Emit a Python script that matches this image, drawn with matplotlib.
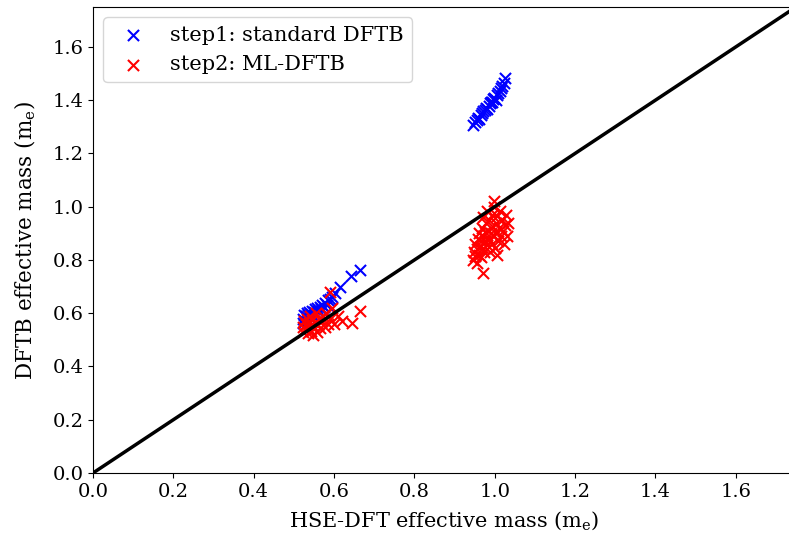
import matplotlib.pyplot as plt

plt.rcParams['font.family'] = 'DejaVu Serif'
plt.rcParams['mathtext.fontset'] = 'dejavuserif'

# step1: standard DFTB (HSE-DFT mass, DFTB mass)
blue_x = [0.945, 0.950, 0.955, 0.958, 0.962, 0.965, 0.968, 0.972, 0.975, 0.978,
          0.981, 0.985, 0.988, 0.990, 0.993, 0.996, 0.999, 1.002, 1.005, 1.008,
          1.012, 1.015, 1.018, 1.022, 1.026,
          0.522, 0.524, 0.526, 0.528, 0.530, 0.532, 0.534, 0.536, 0.538, 0.540,
          0.542, 0.545, 0.548, 0.550, 0.553, 0.556, 0.558, 0.561, 0.564, 0.567,
          0.570, 0.574, 0.578, 0.582, 0.586, 0.590, 0.596, 0.603, 0.615, 0.643,
          0.665]
blue_y = [1.305, 1.318, 1.325, 1.335, 1.330, 1.345, 1.352, 1.358, 1.365, 1.372,
          1.368, 1.380, 1.388, 1.395, 1.392, 1.405, 1.410, 1.402, 1.420, 1.428,
          1.435, 1.445, 1.452, 1.465, 1.482,
          0.565, 0.580, 0.595, 0.570, 0.588, 0.600, 0.575, 0.592, 0.605, 0.582,
          0.598, 0.610, 0.590, 0.603, 0.615, 0.598, 0.620, 0.608, 0.625, 0.615,
          0.632, 0.622, 0.640, 0.630, 0.648, 0.655, 0.662, 0.675, 0.700, 0.741,
          0.764]

# step2: ML-DFTB
red_x = [0.945, 0.948, 0.950, 0.952, 0.955, 0.957, 0.958, 0.960, 0.962, 0.963,
         0.965, 0.967, 0.968, 0.970, 0.971, 0.972, 0.974, 0.975, 0.976, 0.978,
         0.980, 0.981, 0.983, 0.985, 0.986, 0.988, 0.990, 0.992, 0.994, 0.995,
         0.997, 0.999, 1.000, 1.002, 1.004, 1.006, 1.008, 1.010, 1.012, 1.015,
         1.018, 1.020, 1.022, 1.025, 1.028, 1.030, 1.032, 0.972, 0.998, 1.005,
         0.522, 0.524, 0.526, 0.528, 0.530, 0.532, 0.534, 0.536, 0.538, 0.540,
         0.542, 0.544, 0.546, 0.548, 0.550, 0.552, 0.555, 0.558, 0.560, 0.563,
         0.566, 0.570, 0.573, 0.577, 0.580, 0.585, 0.590, 0.595, 0.600, 0.610,
         0.620, 0.645, 0.665, 0.590]
red_y = [0.800, 0.830, 0.815, 0.860, 0.790, 0.840, 0.880, 0.820, 0.900, 0.850,
         0.870, 0.810, 0.920, 0.845, 0.890, 0.960, 0.830, 0.905, 0.870, 0.940,
         0.855, 0.985, 0.910, 0.880, 0.950, 0.830, 0.900, 0.970, 0.860, 0.925,
         0.890, 1.000, 0.845, 0.940, 0.900, 0.965, 0.870, 0.920, 0.985, 0.890,
         0.950, 0.910, 0.860, 0.930, 0.970, 0.890, 0.940, 0.750, 1.020, 0.820,
         0.530, 0.550, 0.570, 0.540, 0.560, 0.580, 0.525, 0.545, 0.565, 0.590,
         0.535, 0.555, 0.575, 0.520, 0.545, 0.565, 0.600, 0.530, 0.555, 0.580,
         0.545, 0.570, 0.590, 0.550, 0.600, 0.560, 0.580, 0.620, 0.560, 0.590,
         0.570, 0.564, 0.610, 0.680]

lim = 1.75

fig = plt.figure(figsize=(7.89, 5.45), dpi=100)
ax = fig.add_axes([93 / 789, 72 / 545, 703 / 789, 466 / 545])

ax.scatter(blue_x, blue_y, marker='x', s=64, color='blue', linewidths=1.5,
           label='step1: standard DFTB')
ax.scatter(red_x, red_y, marker='x', s=64, color='red', linewidths=1.5,
           label='step2: ML-DFTB')
ax.plot([0, lim], [0, lim], color='black', linewidth=2.5)

ax.set_xlim(0, lim)
ax.set_ylim(0, lim)
ax.set_xticks([0, 0.2, 0.4, 0.6, 0.8, 1.0, 1.2, 1.4, 1.6])
ax.set_yticks([0, 0.2, 0.4, 0.6, 0.8, 1.0, 1.2, 1.4, 1.6])
ax.tick_params(labelsize=14)
ax.set_xlabel(r'HSE-DFT effective mass (m$_\mathrm{e}$)', fontsize=15, labelpad=6)
ax.set_ylabel(r'DFTB effective mass (m$_\mathrm{e}$)', fontsize=15.5, labelpad=10)
ax.legend(loc='upper left', fontsize=15)

fig.savefig('out.png', dpi=100)
